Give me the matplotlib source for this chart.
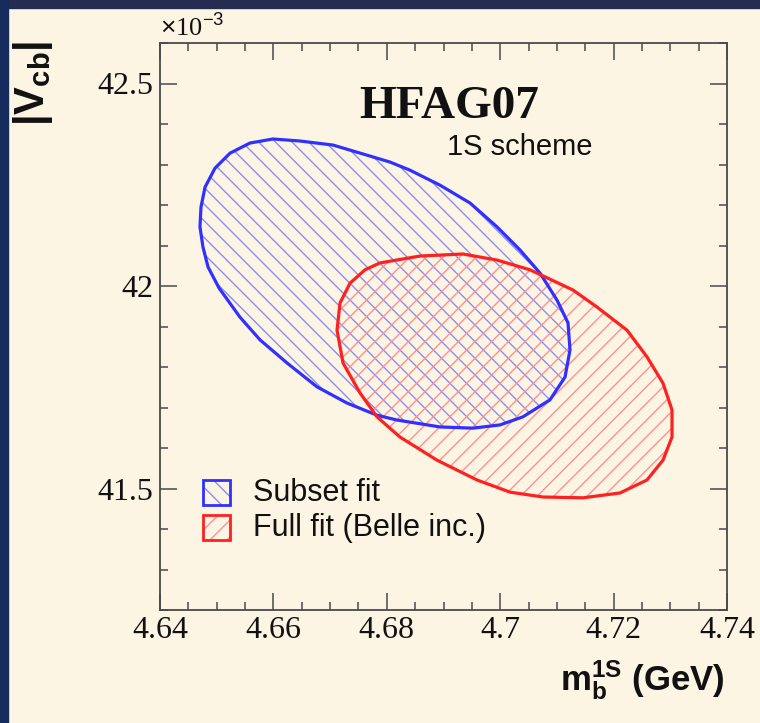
import matplotlib
matplotlib.use("Agg")
import matplotlib.pyplot as plt
from matplotlib.patches import Polygon, Rectangle
from matplotlib.ticker import MultipleLocator, FuncFormatter
import numpy as np

# ---- data (m_b^1S in GeV, |Vcb| in units of 1e-3) ----
subset_mb = [4.64705, 4.64723, 4.64794, 4.64970, 4.65235, 4.65587, 4.65993, 4.66469,
             4.67051, 4.67580, 4.68057, 4.68409, 4.68938, 4.69467, 4.69944, 4.70349,
             4.70702, 4.71002, 4.71196, 4.71231, 4.71143, 4.70878, 4.70402, 4.69997,
             4.69520, 4.68938, 4.68180, 4.67827, 4.67298, 4.66769, 4.66240, 4.65764,
             4.65411, 4.65041, 4.64847, 4.64758]
subset_vcb = [42.146, 42.195, 42.244, 42.291, 42.328, 42.353, 42.363, 42.358,
              42.348, 42.326, 42.306, 42.286, 42.249, 42.205, 42.146, 42.089,
              42.032, 41.965, 41.909, 41.842, 41.775, 41.719, 41.677, 41.657,
              41.649, 41.652, 41.669, 41.681, 41.711, 41.751, 41.810, 41.867,
              41.923, 41.995, 42.047, 42.096]

full_mb = [4.67880, 4.68586, 4.69344, 4.69944, 4.70526, 4.71284, 4.71707, 4.72236,
           4.72589, 4.72871, 4.73030, 4.73030, 4.72871, 4.72589, 4.72113, 4.71461,
           4.70755, 4.70173, 4.69591, 4.68885, 4.68233, 4.67827, 4.67527, 4.67228,
           4.67122, 4.67175, 4.67351, 4.67616]
full_vcb = [42.057, 42.074, 42.079, 42.064, 42.040, 41.990, 41.948, 41.891,
            41.825, 41.760, 41.694, 41.627, 41.570, 41.521, 41.489, 41.477,
            41.479, 41.491, 41.521, 41.570, 41.627, 41.677, 41.736, 41.810,
            41.891, 41.958, 42.007, 42.040]

legend_labels = ["Subset fit", "Full fit (Belle inc.)"]

BG = "#fdf5e4"
BLUE = "#3030ff"
BLUE_H = "#8c8cf2"
RED = "#ff2020"
RED_H = "#ff9090"
AX = "#4a4a4a"

plt.rcParams["hatch.linewidth"] = 1.0
plt.rcParams["mathtext.fontset"] = "custom"
plt.rcParams["mathtext.rm"] = "Liberation Sans"
plt.rcParams["mathtext.bf"] = "Liberation Sans:bold"
plt.rcParams["mathtext.it"] = "Liberation Sans:italic"

fig = plt.figure(figsize=(7.6, 7.23), dpi=100, facecolor=BG)
# dark frame on top and left
fig.patches.append(Rectangle((0, 1 - 8 / 723), 1, 8 / 723, transform=fig.transFigure,
                             color="#262b52", zorder=0))
fig.patches.append(Rectangle((0, 0), 8 / 760, 1, transform=fig.transFigure,
                             color="#142b5c", zorder=0))

ax = fig.add_axes([160 / 760, 113 / 723, 567 / 760, 567 / 723])
ax.set_facecolor(BG)
ax.set_xlim(4.64, 4.74)
ax.set_ylim(41.2, 42.6)

def draw(xs, ys, col, hcol, hatch):
    pts = np.column_stack([xs, ys])
    ax.add_patch(Polygon(pts, closed=True, facecolor="none", edgecolor=hcol,
                         linewidth=0, hatch=hatch, zorder=2))
    ax.add_patch(Polygon(pts, closed=True, facecolor="none", edgecolor=col,
                         linewidth=2.3, joinstyle="round", zorder=3))

draw(subset_mb, subset_vcb, BLUE, BLUE_H, "\\\\")
draw(full_mb, full_vcb, RED, RED_H, "//")

# ticks
ax.xaxis.set_major_locator(MultipleLocator(0.02))
ax.xaxis.set_minor_locator(MultipleLocator(0.005))
ax.yaxis.set_major_locator(MultipleLocator(0.5))
ax.yaxis.set_minor_locator(MultipleLocator(0.1))
ax.xaxis.set_major_formatter(FuncFormatter(lambda v, p: f"{v:g}"))
ax.yaxis.set_major_formatter(FuncFormatter(lambda v, p: f"{v:g}"))
ax.tick_params(which="both", direction="in", top=True, right=True, color=AX)
ax.tick_params(which="major", length=12, width=1.1)
ax.tick_params(which="minor", length=6, width=1.1)
ax.tick_params(axis="x", pad=4)
ax.tick_params(axis="y", pad=5)
for lab in ax.get_xticklabels() + ax.get_yticklabels():
    lab.set_fontfamily("Liberation Serif")
    lab.set_fontsize(23)
    lab.set_color("#111111")
for s in ax.spines.values():
    s.set_color(AX)
    s.set_linewidth(1.3)

# axis labels
fig.text(33 / 760, 1 - 83 / 723, r"$\mathbf{|V_{cb}|}$", rotation=90,
         ha="center", va="center", fontsize=30, color="#111111")
fig.text(725 / 760, 1 - 680 / 723, r"$\mathbf{m_b^{1S}}$ (GeV)", ha="right",
         va="center", fontsize=25, fontweight="bold", family="Liberation Sans",
         color="#111111")
fig.text(160 / 760, 1 - 28 / 723, r"$\times$10$^{-3}$", ha="left", va="center",
         fontsize=19, family="Liberation Serif", color="#111111")

# titles
ax.text(0.352, 0.888, "HFAG07", transform=ax.transAxes, fontsize=34,
        fontweight="bold", family="Liberation Serif", ha="left", va="center",
        color="#111111")
ax.text(0.506, 0.816, "1S scheme", transform=ax.transAxes, fontsize=21,
        family="Liberation Sans", ha="left", va="center", color="#111111")

# legend
for (y0, col, hcol, hatch, lab) in [(0.185, BLUE, BLUE_H, "\\\\", legend_labels[0]),
                                     (0.123, RED, RED_H, "//", legend_labels[1])]:
    ax.add_patch(Rectangle((0.0758, y0), 0.0477, 0.044, transform=ax.transAxes,
                           facecolor="none", edgecolor=hcol, linewidth=0,
                           hatch=hatch, zorder=4))
    ax.add_patch(Rectangle((0.0758, y0), 0.0477, 0.044, transform=ax.transAxes,
                           facecolor="none", edgecolor=col, linewidth=2.0, zorder=5))
    ax.text(0.164, y0 + 0.022, lab, transform=ax.transAxes, fontsize=22,
            family="Liberation Sans", ha="left", va="center", color="#111111")

fig.savefig("out.png", dpi=100, facecolor=BG)
